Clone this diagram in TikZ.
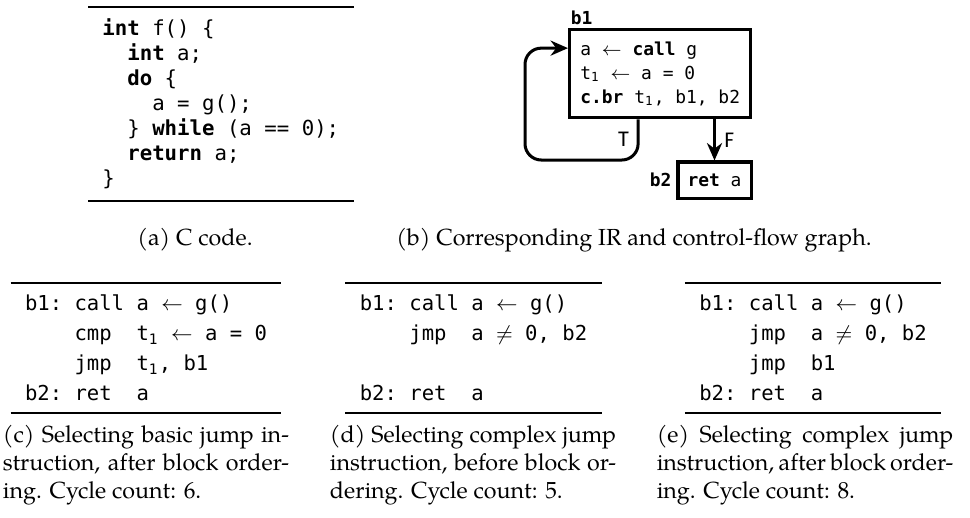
\documentclass[tikz,border=0pt]{standalone}
\usepackage{fontspec}
\setmainfont{texgyrepagella}[Extension=.otf, UprightFont=*-regular, BoldFont=*-bold, ItalicFont=*-italic, BoldItalicFont=*-bolditalic]
\setmonofont{DejaVu Sans Mono}
\newfontfamily\flagfont{Fira Sans}
\usetikzlibrary{positioning,calc,arrows.meta}
\newcommand{\srcfont}{\ttfamily\fontsize{8.9}{10.75}\selectfont}
\newcommand{\asmfont}{\ttfamily\fontsize{8.85}{12.9}\selectfont}
\newcommand{\irfont}{\ttfamily\fontsize{7.7}{10.3}\selectfont}
\newcommand{\sub}[1]{\textsubscript{#1}}

\begin{document}
\begin{tikzpicture}[
        x=0.43pt, y=-0.43pt,
        codebox/.style={
            inner xsep=6pt, inner ysep=5pt,
            align=left
        },
        tablerule/.style={line width=0.9pt},
        cfgblock/.style={
            rectangle, draw=black, line width=1.3pt,
            align=left, font=\irfont,
            inner sep=3pt
        },
        blocklabel/.style={font=\irfont\bfseries, inner sep=1pt},
        flowarrow/.style={line width=1.3pt, -{Stealth[length=7.5pt, width=6.5pt]}},
        flag/.style={font=\flagfont\fontsize{9}{10}\selectfont},
        subcap/.style={
            text width=123pt, align=justify, inner sep=0pt,
            font=\fontsize{10}{12}\selectfont
        },
        onelinecap/.style={inner sep=0pt, font=\fontsize{10}{12}\selectfont}
    ]

        \useasboundingbox (0,0) rectangle (970,517);

        % (a) source code
        \node[codebox, font=\srcfont, anchor=north west] (srcA) at (88,7) {%
            \textbf{int} f() \{\\
            ~~\textbf{int} a;\\
            ~~\textbf{do} \{\\
            ~~~~a = g();\\
            ~~\} \textbf{while} (a == 0);\\
            ~~\textbf{return} a;\\
            \}};
        \draw[tablerule] (srcA.north west) -- (srcA.north east);
        \draw[tablerule] (srcA.south west) -- (srcA.south east);
        \node[onelinecap] (capA) at (195,240) {(a) C code.};

        % (b) IR and control-flow graph
        \node[cfgblock, anchor=north west, minimum width=78pt, minimum height=38pt] (b1) at (568,28) {%
            a $\leftarrow$ \textbf{call} g\\
            t\sub{1} $\leftarrow$ a = 0\\
            \textbf{c.br} t\sub{1}, b1, b2};
        \node[cfgblock, minimum width=31.4pt, minimum height=15.5pt] (b2) at (714.5,180) {\textbf{ret} a};
        \node[blocklabel, anchor=south west] (b1name) at (b1.north west) {b1};
        \node[blocklabel, left=1pt of b2] (b2name) {b2};
        \coordinate (loopturn) at (525,160);
        \draw[flowarrow] (b2.north |- b1.south) -- node[flag, right] {F} (b2.north);
        \draw[flowarrow, rounded corners=7pt] ([xshift=-9.5pt]b1.south) |- node[flag, pos=0.25, left] {T} (loopturn) |- ([yshift=11pt]b1.west);
        \node[onelinecap] (capB) at (634,240) {(b) Corresponding IR and control-flow graph.};

        % (c) basic jump, after block ordering
        \node[codebox, font=\asmfont, anchor=north] (asmC) at (146,283) {%
            b1:~call~a~$\leftarrow$~g()\\
            ~~~~cmp~~t\sub{1}~$\leftarrow$~a~=~0\\
            ~~~~jmp~~t\sub{1},~b1\\
            b2:~ret~~a};
        \draw[tablerule] (asmC.north west) -- (asmC.north east);
        \draw[tablerule] (asmC.south west) -- (asmC.south east);
        \node[subcap, anchor=north] (capC) at (146,425) {(c) Selecting basic jump in-\linebreak
            struction, after block order-\linebreak ing. Cycle count: 6.};

        % (d) complex jump, before block ordering
        \node[codebox, font=\asmfont, anchor=north] (asmD) at (473.5,283) {%
            b1:~call~a~$\leftarrow$~g()\\
            ~~~~jmp~~a~$\neq$~0,~b2\\
            ~\\
            b2:~ret~~a};
        \draw[tablerule] (asmD.north west) -- (asmD.north east);
        \draw[tablerule] (asmD.south west) -- (asmD.south east);
        \node[subcap, anchor=north] (capD) at (473,425) {(d) Selecting complex jump\linebreak
            instruction, before block or-\linebreak dering. Cycle count: 5.};

        % (e) complex jump, after block ordering
        \node[codebox, font=\asmfont, anchor=north] (asmE) at (813,283) {%
            b1:~call~a~$\leftarrow$~g()\\
            ~~~~jmp~~a~$\neq$~0,~b2\\
            ~~~~jmp~~b1\\
            b2:~ret~~a};
        \draw[tablerule] (asmE.north west) -- (asmE.north east);
        \draw[tablerule] (asmE.south west) -- (asmE.south east);
        \node[subcap, text width=127.5pt, anchor=north] (capE) at (805,425) {(e) Selecting complex jump\linebreak
            instruction, after block order-\linebreak ing. Cycle count: 8.};
\end{tikzpicture}
\end{document}
